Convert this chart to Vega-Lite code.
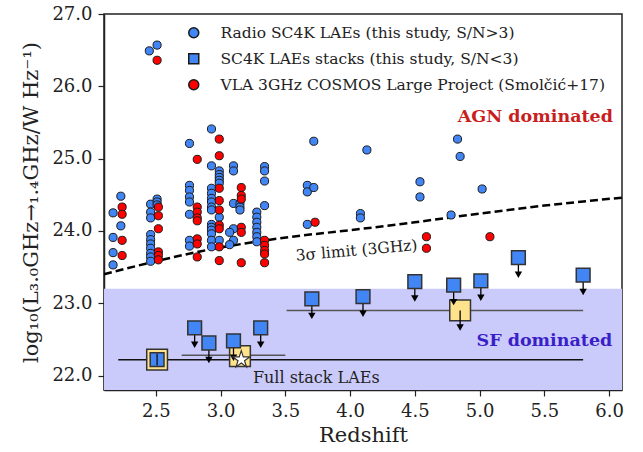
{
  "$schema": "https://vega.github.io/schema/vega-lite/v6.json",
  "width": 518,
  "height": 376,
  "autosize": {"type": "none"},
  "padding": {"left": 104, "top": 14, "right": 21, "bottom": 62},
  "background": "white",
  "data": {"values": [{}]},
  "config": {
    "font": "DejaVu Serif",
    "view": {"stroke": "#222", "strokeWidth": 1.5},
    "axis": {
      "labelFont": "DejaVu Serif", "labelFontSize": 18, "labelColor": "#222",
      "titleFont": "DejaVu Serif", "titleFontWeight": "normal", "titleColor": "#222",
      "grid": false, "domainColor": "#222", "domainWidth": 1.5, "tickColor": "#222",
      "tickSize": 6, "tickWidth": 1.2
    },
    "legend": {
      "labelFont": "DejaVu Serif", "labelFontSize": 15.5, "labelColor": "#222", "labelLimit": 0
    }
  },
  "datasets": {
    "radio": [
      {"z": 2.23, "L": 24.48, "series": "Radio SC4K LAEs (this study, S/N>3)"},
      {"z": 2.17, "L": 24.25, "series": "Radio SC4K LAEs (this study, S/N>3)"},
      {"z": 2.23, "L": 24.07, "series": "Radio SC4K LAEs (this study, S/N>3)"},
      {"z": 2.17, "L": 23.91, "series": "Radio SC4K LAEs (this study, S/N>3)"},
      {"z": 2.17, "L": 23.70, "series": "Radio SC4K LAEs (this study, S/N>3)"},
      {"z": 2.17, "L": 23.53, "series": "Radio SC4K LAEs (this study, S/N>3)"},
      {"z": 2.46, "L": 24.37, "series": "Radio SC4K LAEs (this study, S/N>3)"},
      {"z": 2.46, "L": 24.26, "series": "Radio SC4K LAEs (this study, S/N>3)"},
      {"z": 2.46, "L": 24.18, "series": "Radio SC4K LAEs (this study, S/N>3)"},
      {"z": 2.46, "L": 23.95, "series": "Radio SC4K LAEs (this study, S/N>3)"},
      {"z": 2.46, "L": 23.88, "series": "Radio SC4K LAEs (this study, S/N>3)"},
      {"z": 2.46, "L": 23.82, "series": "Radio SC4K LAEs (this study, S/N>3)"},
      {"z": 2.46, "L": 23.76, "series": "Radio SC4K LAEs (this study, S/N>3)"},
      {"z": 2.46, "L": 23.69, "series": "Radio SC4K LAEs (this study, S/N>3)"},
      {"z": 2.46, "L": 23.64, "series": "Radio SC4K LAEs (this study, S/N>3)"},
      {"z": 2.46, "L": 23.58, "series": "Radio SC4K LAEs (this study, S/N>3)"},
      {"z": 2.51, "L": 24.44, "series": "Radio SC4K LAEs (this study, S/N>3)"},
      {"z": 2.51, "L": 24.40, "series": "Radio SC4K LAEs (this study, S/N>3)"},
      {"z": 2.51, "L": 24.36, "series": "Radio SC4K LAEs (this study, S/N>3)"},
      {"z": 2.45, "L": 26.49, "series": "Radio SC4K LAEs (this study, S/N>3)"},
      {"z": 2.51, "L": 26.57, "series": "Radio SC4K LAEs (this study, S/N>3)"},
      {"z": 2.76, "L": 25.21, "series": "Radio SC4K LAEs (this study, S/N>3)"},
      {"z": 2.76, "L": 24.63, "series": "Radio SC4K LAEs (this study, S/N>3)"},
      {"z": 2.76, "L": 24.56, "series": "Radio SC4K LAEs (this study, S/N>3)"},
      {"z": 2.76, "L": 24.47, "series": "Radio SC4K LAEs (this study, S/N>3)"},
      {"z": 2.76, "L": 24.40, "series": "Radio SC4K LAEs (this study, S/N>3)"},
      {"z": 2.76, "L": 24.23, "series": "Radio SC4K LAEs (this study, S/N>3)"},
      {"z": 2.76, "L": 23.87, "series": "Radio SC4K LAEs (this study, S/N>3)"},
      {"z": 2.76, "L": 23.79, "series": "Radio SC4K LAEs (this study, S/N>3)"},
      {"z": 2.93, "L": 25.41, "series": "Radio SC4K LAEs (this study, S/N>3)"},
      {"z": 2.93, "L": 24.90, "series": "Radio SC4K LAEs (this study, S/N>3)"},
      {"z": 2.93, "L": 24.59, "series": "Radio SC4K LAEs (this study, S/N>3)"},
      {"z": 2.93, "L": 24.52, "series": "Radio SC4K LAEs (this study, S/N>3)"},
      {"z": 2.93, "L": 24.45, "series": "Radio SC4K LAEs (this study, S/N>3)"},
      {"z": 2.93, "L": 24.40, "series": "Radio SC4K LAEs (this study, S/N>3)"},
      {"z": 2.93, "L": 24.33, "series": "Radio SC4K LAEs (this study, S/N>3)"},
      {"z": 2.93, "L": 24.29, "series": "Radio SC4K LAEs (this study, S/N>3)"},
      {"z": 2.93, "L": 24.09, "series": "Radio SC4K LAEs (this study, S/N>3)"},
      {"z": 2.93, "L": 24.05, "series": "Radio SC4K LAEs (this study, S/N>3)"},
      {"z": 2.93, "L": 24.01, "series": "Radio SC4K LAEs (this study, S/N>3)"},
      {"z": 2.93, "L": 23.96, "series": "Radio SC4K LAEs (this study, S/N>3)"},
      {"z": 2.93, "L": 23.87, "series": "Radio SC4K LAEs (this study, S/N>3)"},
      {"z": 2.93, "L": 23.78, "series": "Radio SC4K LAEs (this study, S/N>3)"},
      {"z": 2.99, "L": 24.83, "series": "Radio SC4K LAEs (this study, S/N>3)"},
      {"z": 2.99, "L": 24.78, "series": "Radio SC4K LAEs (this study, S/N>3)"},
      {"z": 2.99, "L": 24.74, "series": "Radio SC4K LAEs (this study, S/N>3)"},
      {"z": 2.99, "L": 24.70, "series": "Radio SC4K LAEs (this study, S/N>3)"},
      {"z": 2.99, "L": 24.66, "series": "Radio SC4K LAEs (this study, S/N>3)"},
      {"z": 2.99, "L": 24.19, "series": "Radio SC4K LAEs (this study, S/N>3)"},
      {"z": 2.99, "L": 23.87, "series": "Radio SC4K LAEs (this study, S/N>3)"},
      {"z": 3.10, "L": 24.90, "series": "Radio SC4K LAEs (this study, S/N>3)"},
      {"z": 3.10, "L": 24.83, "series": "Radio SC4K LAEs (this study, S/N>3)"},
      {"z": 3.10, "L": 24.38, "series": "Radio SC4K LAEs (this study, S/N>3)"},
      {"z": 3.10, "L": 24.03, "series": "Radio SC4K LAEs (this study, S/N>3)"},
      {"z": 3.10, "L": 23.87, "series": "Radio SC4K LAEs (this study, S/N>3)"},
      {"z": 3.07, "L": 23.98, "series": "Radio SC4K LAEs (this study, S/N>3)"},
      {"z": 3.07, "L": 23.81, "series": "Radio SC4K LAEs (this study, S/N>3)"},
      {"z": 3.15, "L": 24.38, "series": "Radio SC4K LAEs (this study, S/N>3)"},
      {"z": 3.15, "L": 24.33, "series": "Radio SC4K LAEs (this study, S/N>3)"},
      {"z": 3.15, "L": 24.29, "series": "Radio SC4K LAEs (this study, S/N>3)"},
      {"z": 3.34, "L": 24.89, "series": "Radio SC4K LAEs (this study, S/N>3)"},
      {"z": 3.34, "L": 24.83, "series": "Radio SC4K LAEs (this study, S/N>3)"},
      {"z": 3.34, "L": 24.69, "series": "Radio SC4K LAEs (this study, S/N>3)"},
      {"z": 3.34, "L": 24.35, "series": "Radio SC4K LAEs (this study, S/N>3)"},
      {"z": 3.28, "L": 24.26, "series": "Radio SC4K LAEs (this study, S/N>3)"},
      {"z": 3.28, "L": 24.19, "series": "Radio SC4K LAEs (this study, S/N>3)"},
      {"z": 3.28, "L": 24.12, "series": "Radio SC4K LAEs (this study, S/N>3)"},
      {"z": 3.28, "L": 24.05, "series": "Radio SC4K LAEs (this study, S/N>3)"},
      {"z": 3.28, "L": 23.98, "series": "Radio SC4K LAEs (this study, S/N>3)"},
      {"z": 3.28, "L": 23.92, "series": "Radio SC4K LAEs (this study, S/N>3)"},
      {"z": 3.28, "L": 23.85, "series": "Radio SC4K LAEs (this study, S/N>3)"},
      {"z": 3.72, "L": 25.24, "series": "Radio SC4K LAEs (this study, S/N>3)"},
      {"z": 3.67, "L": 24.63, "series": "Radio SC4K LAEs (this study, S/N>3)"},
      {"z": 3.67, "L": 24.54, "series": "Radio SC4K LAEs (this study, S/N>3)"},
      {"z": 3.72, "L": 24.60, "series": "Radio SC4K LAEs (this study, S/N>3)"},
      {"z": 3.67, "L": 24.09, "series": "Radio SC4K LAEs (this study, S/N>3)"},
      {"z": 4.08, "L": 24.24, "series": "Radio SC4K LAEs (this study, S/N>3)"},
      {"z": 4.08, "L": 24.18, "series": "Radio SC4K LAEs (this study, S/N>3)"},
      {"z": 4.13, "L": 25.12, "series": "Radio SC4K LAEs (this study, S/N>3)"},
      {"z": 4.54, "L": 24.68, "series": "Radio SC4K LAEs (this study, S/N>3)"},
      {"z": 4.54, "L": 24.47, "series": "Radio SC4K LAEs (this study, S/N>3)"},
      {"z": 4.78, "L": 24.22, "series": "Radio SC4K LAEs (this study, S/N>3)"},
      {"z": 4.83, "L": 25.27, "series": "Radio SC4K LAEs (this study, S/N>3)"},
      {"z": 4.85, "L": 25.03, "series": "Radio SC4K LAEs (this study, S/N>3)"},
      {"z": 5.02, "L": 24.58, "series": "Radio SC4K LAEs (this study, S/N>3)"},
      {"z": 2.24, "L": 24.33, "series": "VLA 3GHz COSMOS Large Project (Smolčić+17)"},
      {"z": 2.24, "L": 24.23, "series": "VLA 3GHz COSMOS Large Project (Smolčić+17)"},
      {"z": 2.24, "L": 23.87, "series": "VLA 3GHz COSMOS Large Project (Smolčić+17)"},
      {"z": 2.24, "L": 23.66, "series": "VLA 3GHz COSMOS Large Project (Smolčić+17)"},
      {"z": 2.52, "L": 24.33, "series": "VLA 3GHz COSMOS Large Project (Smolčić+17)"},
      {"z": 2.52, "L": 24.21, "series": "VLA 3GHz COSMOS Large Project (Smolčić+17)"},
      {"z": 2.52, "L": 24.03, "series": "VLA 3GHz COSMOS Large Project (Smolčić+17)"},
      {"z": 2.52, "L": 23.71, "series": "VLA 3GHz COSMOS Large Project (Smolčić+17)"},
      {"z": 2.52, "L": 23.66, "series": "VLA 3GHz COSMOS Large Project (Smolčić+17)"},
      {"z": 2.52, "L": 23.60, "series": "VLA 3GHz COSMOS Large Project (Smolčić+17)"},
      {"z": 2.51, "L": 26.36, "series": "VLA 3GHz COSMOS Large Project (Smolčić+17)"},
      {"z": 2.82, "L": 24.99, "series": "VLA 3GHz COSMOS Large Project (Smolčić+17)"},
      {"z": 2.82, "L": 24.33, "series": "VLA 3GHz COSMOS Large Project (Smolčić+17)"},
      {"z": 2.82, "L": 24.26, "series": "VLA 3GHz COSMOS Large Project (Smolčić+17)"},
      {"z": 2.82, "L": 24.18, "series": "VLA 3GHz COSMOS Large Project (Smolčić+17)"},
      {"z": 2.82, "L": 24.14, "series": "VLA 3GHz COSMOS Large Project (Smolčić+17)"},
      {"z": 2.82, "L": 23.89, "series": "VLA 3GHz COSMOS Large Project (Smolčić+17)"},
      {"z": 2.82, "L": 23.82, "series": "VLA 3GHz COSMOS Large Project (Smolčić+17)"},
      {"z": 2.82, "L": 23.64, "series": "VLA 3GHz COSMOS Large Project (Smolčić+17)"},
      {"z": 2.99, "L": 25.27, "series": "VLA 3GHz COSMOS Large Project (Smolčić+17)"},
      {"z": 2.99, "L": 25.04, "series": "VLA 3GHz COSMOS Large Project (Smolčić+17)"},
      {"z": 2.99, "L": 24.59, "series": "VLA 3GHz COSMOS Large Project (Smolčić+17)"},
      {"z": 2.99, "L": 24.42, "series": "VLA 3GHz COSMOS Large Project (Smolčić+17)"},
      {"z": 2.99, "L": 24.29, "series": "VLA 3GHz COSMOS Large Project (Smolčić+17)"},
      {"z": 2.99, "L": 24.08, "series": "VLA 3GHz COSMOS Large Project (Smolčić+17)"},
      {"z": 2.99, "L": 24.03, "series": "VLA 3GHz COSMOS Large Project (Smolčić+17)"},
      {"z": 2.99, "L": 23.78, "series": "VLA 3GHz COSMOS Large Project (Smolčić+17)"},
      {"z": 2.99, "L": 23.59, "series": "VLA 3GHz COSMOS Large Project (Smolčić+17)"},
      {"z": 3.16, "L": 24.60, "series": "VLA 3GHz COSMOS Large Project (Smolčić+17)"},
      {"z": 3.16, "L": 24.49, "series": "VLA 3GHz COSMOS Large Project (Smolčić+17)"},
      {"z": 3.16, "L": 24.44, "series": "VLA 3GHz COSMOS Large Project (Smolčić+17)"},
      {"z": 3.16, "L": 24.05, "series": "VLA 3GHz COSMOS Large Project (Smolčić+17)"},
      {"z": 3.16, "L": 23.98, "series": "VLA 3GHz COSMOS Large Project (Smolčić+17)"},
      {"z": 3.16, "L": 23.56, "series": "VLA 3GHz COSMOS Large Project (Smolčić+17)"},
      {"z": 3.34, "L": 23.87, "series": "VLA 3GHz COSMOS Large Project (Smolčić+17)"},
      {"z": 3.34, "L": 23.80, "series": "VLA 3GHz COSMOS Large Project (Smolčić+17)"},
      {"z": 3.34, "L": 23.73, "series": "VLA 3GHz COSMOS Large Project (Smolčić+17)"},
      {"z": 3.34, "L": 23.68, "series": "VLA 3GHz COSMOS Large Project (Smolčić+17)"},
      {"z": 3.34, "L": 23.56, "series": "VLA 3GHz COSMOS Large Project (Smolčić+17)"},
      {"z": 3.73, "L": 24.12, "series": "VLA 3GHz COSMOS Large Project (Smolčić+17)"},
      {"z": 4.59, "L": 23.92, "series": "VLA 3GHz COSMOS Large Project (Smolčić+17)"},
      {"z": 4.59, "L": 23.76, "series": "VLA 3GHz COSMOS Large Project (Smolčić+17)"},
      {"z": 5.08, "L": 23.92, "series": "VLA 3GHz COSMOS Large Project (Smolčić+17)"}
    ],
    "stacks": [
      {"z": 2.51, "L": 22.22, "upper": false, "series": "SC4K LAEs stacks (this study, S/N<3)"},
      {"z": 2.80, "L": 22.66, "upper": true, "series": "SC4K LAEs stacks (this study, S/N<3)"},
      {"z": 2.91, "L": 22.45, "upper": true, "series": "SC4K LAEs stacks (this study, S/N<3)"},
      {"z": 3.10, "L": 22.48, "upper": true, "series": "SC4K LAEs stacks (this study, S/N<3)"},
      {"z": 3.31, "L": 22.66, "upper": true, "series": "SC4K LAEs stacks (this study, S/N<3)"},
      {"z": 3.705, "L": 23.06, "upper": true, "series": "SC4K LAEs stacks (this study, S/N<3)"},
      {"z": 4.10, "L": 23.09, "upper": true, "series": "SC4K LAEs stacks (this study, S/N<3)"},
      {"z": 4.50, "L": 23.30, "upper": true, "series": "SC4K LAEs stacks (this study, S/N<3)"},
      {"z": 4.80, "L": 23.25, "upper": true, "series": "SC4K LAEs stacks (this study, S/N<3)"},
      {"z": 5.01, "L": 23.31, "upper": true, "series": "SC4K LAEs stacks (this study, S/N<3)"},
      {"z": 5.30, "L": 23.63, "upper": true, "series": "SC4K LAEs stacks (this study, S/N<3)"},
      {"z": 5.80, "L": 23.39, "upper": true, "series": "SC4K LAEs stacks (this study, S/N<3)"}
    ],
    "yellow": [
      {"z": 2.51, "L": 22.22, "upper": false},
      {"z": 3.15, "L": 22.27, "upper": false},
      {"z": 4.85, "L": 22.90, "upper": true}
    ],
    "limit": [
      {"z": 2.1, "L": 23.40}, {"z": 2.5, "L": 23.58}, {"z": 2.85, "L": 23.72},
      {"z": 3.2, "L": 23.83}, {"z": 3.6, "L": 23.93}, {"z": 4.0, "L": 24.01},
      {"z": 4.5, "L": 24.12}, {"z": 5.0, "L": 24.24}, {"z": 5.5, "L": 24.35},
      {"z": 6.1, "L": 24.46}
    ],
    "rangesBlack": [
      {"z1": 2.21, "z2": 5.80, "L": 22.22}
    ],
    "rangesGray": [
      {"z1": 2.70, "z2": 3.50, "L": 22.28},
      {"z1": 3.51, "z2": 5.80, "L": 22.90}
    ],
    "fullErr": [
      {"z": 2.51, "lo": 22.14, "hi": 22.30}
    ]
  },
  "layer": [
    {
      "mark": {"type": "rect", "color": "#cbcbfb"},
      "encoding": {
        "x": {"datum": 2.1, "type": "quantitative", "scale": {"domain": [2.1, 6.1], "nice": false, "zero": false}},
        "x2": {"datum": 6.1},
        "y": {"datum": 23.2, "type": "quantitative", "scale": {"domain": [21.8, 27.0], "nice": false, "zero": false}},
        "y2": {"datum": 21.8}
      }
    },
    {
      "data": {"name": "limit"},
      "mark": {"type": "line", "color": "black", "strokeWidth": 2.5, "strokeDash": [8, 4], "interpolate": "monotone"},
      "encoding": {
        "x": {"field": "z", "type": "quantitative"},
        "y": {"field": "L", "type": "quantitative"}
      }
    },
    {
      "data": {"name": "rangesBlack"},
      "mark": {"type": "rule", "color": "#111", "strokeWidth": 1.5},
      "encoding": {
        "x": {"field": "z1", "type": "quantitative"},
        "x2": {"field": "z2"},
        "y": {"field": "L", "type": "quantitative"}
      }
    },
    {
      "data": {"name": "rangesGray"},
      "mark": {"type": "rule", "color": "#555", "strokeWidth": 1.5},
      "encoding": {
        "x": {"field": "z1", "type": "quantitative"},
        "x2": {"field": "z2"},
        "y": {"field": "L", "type": "quantitative"}
      }
    },
    {
      "data": {"name": "radio"},
      "mark": {"type": "point", "filled": true, "opacity": 1, "size": 66, "stroke": "#1a1a1a", "strokeWidth": 1},
      "encoding": {
        "x": {"field": "z", "type": "quantitative", "axis": {"title": "Redshift", "titleFontSize": 21, "values": [2.5, 3.0, 3.5, 4.0, 4.5, 5.0, 5.5, 6.0], "format": ".1f", "labelPadding": 6, "titlePadding": 4}},
        "y": {"field": "L", "type": "quantitative", "axis": {"title": "log₁₀(L₃.₀GHz→₁.₄GHz/W Hz⁻¹)", "titleFontSize": 21, "values": [22, 23, 24, 25, 26, 27], "format": ".1f", "labelPadding": 6, "titlePadding": 10}},
        "fill": {"field": "series", "type": "nominal", "scale": {"domain": ["Radio SC4K LAEs (this study, S/N>3)", "SC4K LAEs stacks (this study, S/N<3)", "VLA 3GHz COSMOS Large Project (Smolčić+17)"], "range": ["#4285f4", "#4285f4", "#ff0000"]}, "legend": {"title": null, "orient": "none", "legendX": 82, "legendY": 11, "rowPadding": 8, "labelOffset": 19, "encode": {"symbols": {"update": {"stroke": {"value": "#222"}, "strokeWidth": {"value": 1.2}, "size": {"signal": "datum.value === 'SC4K LAEs stacks (this study, S/N<3)' ? 190 : 60"}}}}}},
        "shape": {"field": "series", "type": "nominal", "scale": {"domain": ["Radio SC4K LAEs (this study, S/N>3)", "SC4K LAEs stacks (this study, S/N<3)", "VLA 3GHz COSMOS Large Project (Smolčić+17)"], "range": ["circle", "square", "circle"]}, "legend": {"title": null, "orient": "none", "legendX": 82, "legendY": 11, "rowPadding": 8, "labelOffset": 19, "encode": {"symbols": {"update": {"stroke": {"value": "#222"}, "strokeWidth": {"value": 1.2}, "size": {"signal": "datum.value === 'SC4K LAEs stacks (this study, S/N<3)' ? 190 : 60"}}}}}}
      }
    },
    {
      "data": {"name": "yellow"},
      "mark": {"type": "square", "filled": true, "opacity": 1, "size": 430},
      "encoding": {
        "x": {"field": "z", "type": "quantitative"},
        "y": {"field": "L", "type": "quantitative"},
        "fill": {"value": "#ffe38c"},
        "stroke": {"value": "#333"},
        "strokeWidth": {"value": 1.5}
      }
    },
    {
      "data": {"name": "yellow"},
      "transform": [{"filter": "datum.upper"}],
      "mark": {"type": "rule", "color": "black", "strokeWidth": 1.3, "y2Offset": 16},
      "encoding": {
        "x": {"field": "z", "type": "quantitative"},
        "y": {"field": "L", "type": "quantitative"},
        "y2": {"field": "L"}
      }
    },
    {
      "data": {"name": "yellow"},
      "transform": [{"filter": "datum.upper"}],
      "mark": {"type": "point", "shape": "triangle-down", "filled": true, "color": "black", "opacity": 1, "size": 55, "yOffset": 17},
      "encoding": {
        "x": {"field": "z", "type": "quantitative"},
        "y": {"field": "L", "type": "quantitative"}
      }
    },
    {
      "data": {"name": "stacks"},
      "transform": [{"filter": "datum.upper"}],
      "mark": {"type": "rule", "color": "black", "strokeWidth": 1.3, "y2Offset": 16},
      "encoding": {
        "x": {"field": "z", "type": "quantitative"},
        "y": {"field": "L", "type": "quantitative"},
        "y2": {"field": "L"}
      }
    },
    {
      "data": {"name": "stacks"},
      "transform": [{"filter": "datum.upper"}],
      "mark": {"type": "point", "shape": "triangle-down", "filled": true, "color": "black", "opacity": 1, "size": 55, "yOffset": 17},
      "encoding": {
        "x": {"field": "z", "type": "quantitative"},
        "y": {"field": "L", "type": "quantitative"}
      }
    },
    {
      "data": {"name": "stacks"},
      "mark": {"type": "point", "filled": true, "opacity": 1, "size": 190, "stroke": "#333", "strokeWidth": 1.5},
      "encoding": {
        "x": {"field": "z", "type": "quantitative"},
        "y": {"field": "L", "type": "quantitative"},
        "fill": {"field": "series", "type": "nominal"},
        "shape": {"field": "series", "type": "nominal"}
      }
    },
    {
      "data": {"name": "fullErr"},
      "mark": {"type": "rule", "color": "#111", "strokeWidth": 1.3},
      "encoding": {
        "x": {"field": "z", "type": "quantitative"},
        "y": {"field": "lo", "type": "quantitative"},
        "y2": {"field": "hi"}
      }
    },
    {
      "mark": {"type": "point", "shape": "M0,-1L0.2245,-0.309L0.951,-0.309L0.3633,0.118L0.5878,0.809L0,0.382L-0.5878,0.809L-0.3633,0.118L-0.951,-0.309L-0.2245,-0.309Z", "filled": true, "opacity": 1, "size": 320},
      "encoding": {
        "x": {"datum": 3.16, "type": "quantitative"},
        "y": {"datum": 22.22, "type": "quantitative"},
        "fill": {"value": "white"},
        "stroke": {"value": "#333"},
        "strokeWidth": {"value": 1.2}
      }
    },
    {
      "mark": {"type": "text", "text": "AGN dominated", "font": "DejaVu Serif", "fontWeight": "bold", "fontSize": 17.5, "color": "#c81e1e", "align": "right", "baseline": "middle"},
      "encoding": {
        "x": {"datum": 6.03, "type": "quantitative"},
        "y": {"datum": 25.57, "type": "quantitative"}
      }
    },
    {
      "mark": {"type": "text", "text": "SF dominated", "font": "DejaVu Serif", "fontWeight": "bold", "fontSize": 17.5, "color": "#3a1fc8", "align": "right", "baseline": "middle"},
      "encoding": {
        "x": {"datum": 6.025, "type": "quantitative"},
        "y": {"datum": 22.48, "type": "quantitative"}
      }
    },
    {
      "mark": {"type": "text", "text": "Full stack LAEs", "font": "DejaVu Serif", "fontSize": 16, "color": "#222", "align": "left", "baseline": "middle"},
      "encoding": {
        "x": {"datum": 3.25, "type": "quantitative"},
        "y": {"datum": 21.97, "type": "quantitative"}
      }
    },
    {
      "mark": {"type": "text", "text": "3σ limit (3GHz)", "font": "DejaVu Serif", "fontSize": 15.5, "color": "#222", "align": "center", "baseline": "middle", "angle": 355},
      "encoding": {
        "x": {"datum": 4.05, "type": "quantitative"},
        "y": {"datum": 23.73, "type": "quantitative"}
      }
    }
  ]
}
